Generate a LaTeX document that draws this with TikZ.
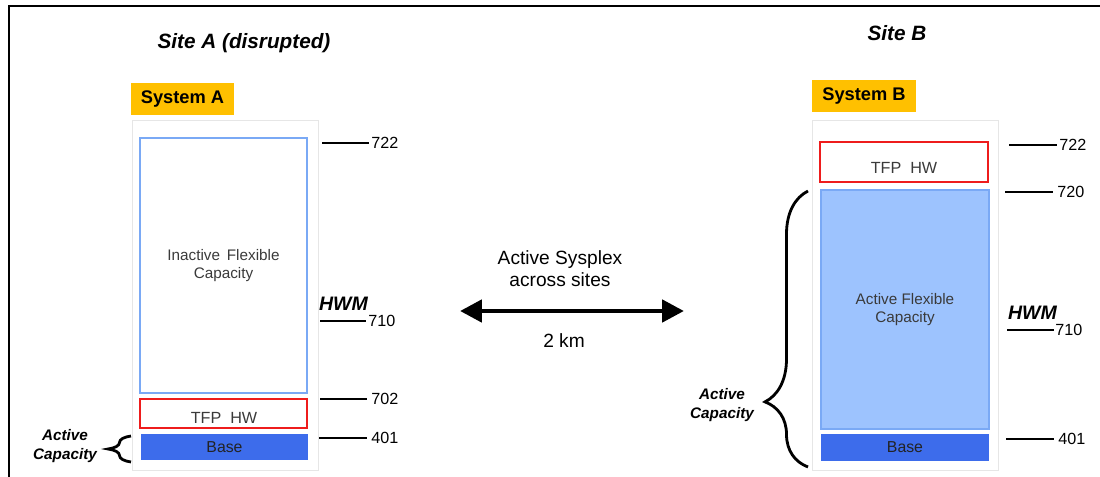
\documentclass[tikz,border=0pt]{standalone}
\usepackage{fontspec}
\setmainfont{Liberation Sans}
\usetikzlibrary{arrows.meta,decorations.pathreplacing}
\definecolor{sysorange}{HTML}{FFC000}
\definecolor{baseblue}{HTML}{3D6CEB}
\definecolor{flexfill}{HTML}{9DC3FE}
\definecolor{flexline}{HTML}{7AA9F5}
\definecolor{tfpred}{HTML}{EE1C1C}
\definecolor{boxtext}{HTML}{3A3A3A}
\definecolor{faint}{HTML}{E6E6E6}
\begin{document}
\begin{tikzpicture}[x=0.02cm,y=-0.02cm,
  sitetitle/.style={font=\bfseries\itshape\fontsize{11.8}{14}\selectfont},
  syslabel/.style={fill=sysorange,inner sep=0pt,minimum width=2.07cm,minimum height=0.64cm,font=\bfseries\fontsize{10.4}{12}\selectfont},
  outerbox/.style={draw=faint,line width=0.5pt,inner sep=0pt,minimum width=3.72cm,minimum height=7cm},
  flexbox/.style={draw=flexline,line width=1.2pt,inner sep=0pt,align=center,text=boxtext,font=\fontsize{8.7}{10}\selectfont},
  tfpbox/.style={draw=tfpred,line width=1.1pt,inner sep=0pt,minimum width=3.34cm},
  basebox/.style={fill=baseblue,inner sep=0pt,minimum width=3.34cm,text=boxtext!60!black,font=\fontsize{9}{10}\selectfont},
  boxlabel/.style={text=boxtext,font=\fontsize{9.2}{10}\selectfont},
  tick/.style={line width=1.7pt},
  ticklabel/.style={anchor=west,inner sep=0pt,font=\fontsize{9.2}{10}\selectfont},
  hwm/.style={font=\bfseries\itshape\fontsize{11.1}{12}\selectfont,inner sep=0pt},
  actcap/.style={align=center,font=\bfseries\itshape\fontsize{8.7}{10.6}\selectfont},
  capbrace/.style={decorate,line width=1.6pt},
  midtext/.style={align=center,font=\fontsize{10.9}{12.5}\selectfont}
]
\useasboundingbox (0,0) rectangle (1100,477);
% frame
\coordinate (fbl) at (9,478);
\coordinate (ftl) at (9,6);
\coordinate (ftr) at (1101,6);
\draw[line width=1pt] (fbl) -- (ftl) -- (ftr);

% ---------------- Site A ----------------
\node[sitetitle] (siteA) at (244,43) {Site A (disrupted)};
\node[syslabel] (sysA) at (182.5,99) {System A};
\node[outerbox] (outerA) at (225,295) {};
\node[flexbox,minimum width=3.34cm,minimum height=5.1cm] (inactA) at (223.5,265.5) {Inactive\, Flexible\\Capacity};
\node[tfpbox,minimum height=0.58cm] (tfpA) at (223.5,413.5) {};
\node[boxlabel] (tfpAt) at (224,418) {TFP\ \ HW};
\node[basebox,minimum height=0.52cm] (baseA) at (224.5,447) {Base};

\coordinate (a722s) at (322,143); \coordinate (a722e) at (369,143);
\draw[tick] (a722s) -- (a722e);
\node[ticklabel] (a722) at (371,143) {722};
\node[hwm] (hwmA) at (343.5,304) {HWM};
\coordinate (a710s) at (320,321); \coordinate (a710e) at (366,321);
\draw[tick] (a710s) -- (a710e);
\node[ticklabel] (a710) at (368,321) {710};
\coordinate (a702s) at (320,399); \coordinate (a702e) at (367,399);
\draw[tick] (a702s) -- (a702e);
\node[ticklabel] (a702) at (371,399) {702};
\coordinate (a401s) at (319,438); \coordinate (a401e) at (367,438);
\draw[tick] (a401s) -- (a401e);
\node[ticklabel] (a401) at (371,438) {401};

\coordinate (braceAb) at (131,462);
\coordinate (braceAt) at (131,436);
\draw[capbrace,decoration={brace,amplitude=0.46cm}] (braceAb) -- (braceAt);
\node[actcap] (capA) at (65,446) {Active\\Capacity};

% ---------------- middle ----------------
\node[midtext] (sysplex) at (560,269) {Active Sysplex\\across sites};
\coordinate (arrL) at (460,311);
\coordinate (arrR) at (684,311);
\draw[line width=2.8pt,{Triangle[length=12.5pt,width=12.5pt]}-{Triangle[length=12.5pt,width=12.5pt]}] (arrL) -- (arrR);
\node[midtext] (dist) at (564,341) {2 km};

% ---------------- Site B ----------------
\node[sitetitle] (siteB) at (897,33) {Site B};
\node[syslabel] (sysB) at (864,96) {System B};
\node[outerbox] (outerB) at (905,295) {};
\node[tfpbox,minimum width=3.36cm,minimum height=0.8cm] (tfpB) at (904,162) {};
\node[boxlabel] (tfpBt) at (904,168) {TFP\ \ HW};
\node[flexbox,fill=flexfill,minimum width=3.36cm,minimum height=4.78cm] (actB) at (905,309.5) {Active Flexible\\Capacity};
\node[basebox,minimum width=3.36cm,minimum height=0.54cm] (baseB) at (905,447.5) {Base};

\coordinate (b722s) at (1009,145); \coordinate (b722e) at (1057,145);
\draw[tick] (b722s) -- (b722e);
\node[ticklabel] (b722) at (1059,145) {722};
\coordinate (b720s) at (1005,192); \coordinate (b720e) at (1053,192);
\draw[tick] (b720s) -- (b720e);
\node[ticklabel] (b720) at (1057,192) {720};
\node[hwm] (hwmB) at (1032.5,313) {HWM};
\coordinate (b710s) at (1007,330); \coordinate (b710e) at (1054,330);
\draw[tick] (b710s) -- (b710e);
\node[ticklabel] (b710) at (1055,330) {710};
\coordinate (b401s) at (1006,439); \coordinate (b401e) at (1054,439);
\draw[tick] (b401s) -- (b401e);
\node[ticklabel] (b401) at (1058,439) {401};

\coordinate (braceBb) at (808,467);
\coordinate (braceBt) at (808,191);
\draw[capbrace,decoration={brace,amplitude=0.86cm,aspect=0.236}] (braceBb) -- (braceBt);
\node[actcap] (capB) at (722,405) {Active\\Capacity};
\end{tikzpicture}
\end{document}
